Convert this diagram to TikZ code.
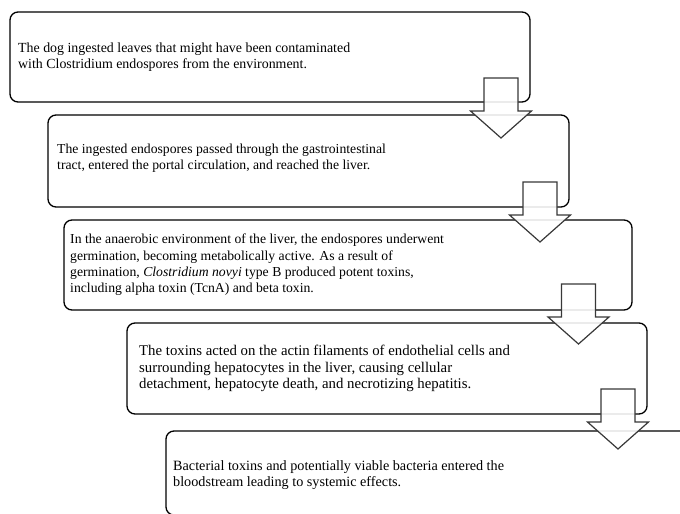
\documentclass[tikz,border=0pt]{standalone}
\usepackage{fontspec}
\setmainfont{Liberation Serif}
\begin{document}
\begin{tikzpicture}[x=1pt,y=-1pt,
  stepbox/.style={draw=black, line width=1.3pt, rounded corners=8pt, fill=none, inner sep=0pt, outer sep=0pt, anchor=north west},
  boxtext/.style={anchor=west, align=left, inner sep=0pt, font=\fontsize{14}{16.3}\selectfont, text=black},
  blockarrow/.style={draw=black!78, line width=1.2pt, fill=white, fill opacity=0.88, line join=miter}
]
\useasboundingbox (0,0) rectangle (680,514);
\clip (0,0) rectangle (680,514);
% boxes
\node[stepbox, minimum width=520pt, minimum height=90pt] (b1) at (10,12) {};
\node[stepbox, minimum width=521pt, minimum height=92pt] (b2) at (48,115) {};
\node[stepbox, minimum width=568pt, minimum height=90pt] (b3) at (64,220) {};
\node[stepbox, minimum width=520pt, minimum height=91pt] (b4) at (127,323) {};
\node[stepbox, minimum width=540pt, minimum height=84pt] (b5) at (166,431) {};
% texts
\node[boxtext, font=\fontsize{13.9}{16.3}\selectfont] (t1) at ([xshift=8pt]b1.west) {The dog ingested leaves that might have been contaminated\\with Clostridium endospores from the environment.};
\node[boxtext, font=\fontsize{13.7}{16.3}\selectfont] (t2) at ([xshift=9pt,yshift=3pt]b2.west) {The ingested endospores passed through the gastrointestinal\\tract, entered the portal circulation, and reached the liver.};
\node[boxtext, font=\fontsize{13.7}{16.3}\selectfont] (t3) at ([xshift=6pt]b3.west) {In the anaerobic environment of the liver, the endospores underwent\\germination, becoming metabolically active. As a result of\\germination, \textit{Clostridium novyi} type B produced potent toxins,\\including alpha toxin (TcnA) and beta toxin.};
\node[boxtext, font=\fontsize{14.8}{16.8}\selectfont] (t4) at ([xshift=12pt]b4.west) {The toxins acted on the actin filaments of endothelial cells and\\surrounding hepatocytes in the liver, causing cellular\\detachment, hepatocyte death, and necrotizing hepatitis.};
\node[boxtext, font=\fontsize{14.2}{16.6}\selectfont] (t5) at ([xshift=7pt,yshift=-2pt]b5.west) {Bacterial toxins and potentially viable bacteria entered the\\bloodstream leading to systemic effects.};
% block arrows (centre x, stem top y)
\foreach \cx/\sy in {501/78, 540/182, 578.5/284, 618/389}{
  \draw[blockarrow] (\cx-17,\sy) -- (\cx+17,\sy) -- (\cx+17,\sy+33) -- (\cx+30.5,\sy+33)
     -- (\cx,\sy+60) -- (\cx-30.5,\sy+33) -- (\cx-17,\sy+33) -- cycle;
}
\end{tikzpicture}
\end{document}
